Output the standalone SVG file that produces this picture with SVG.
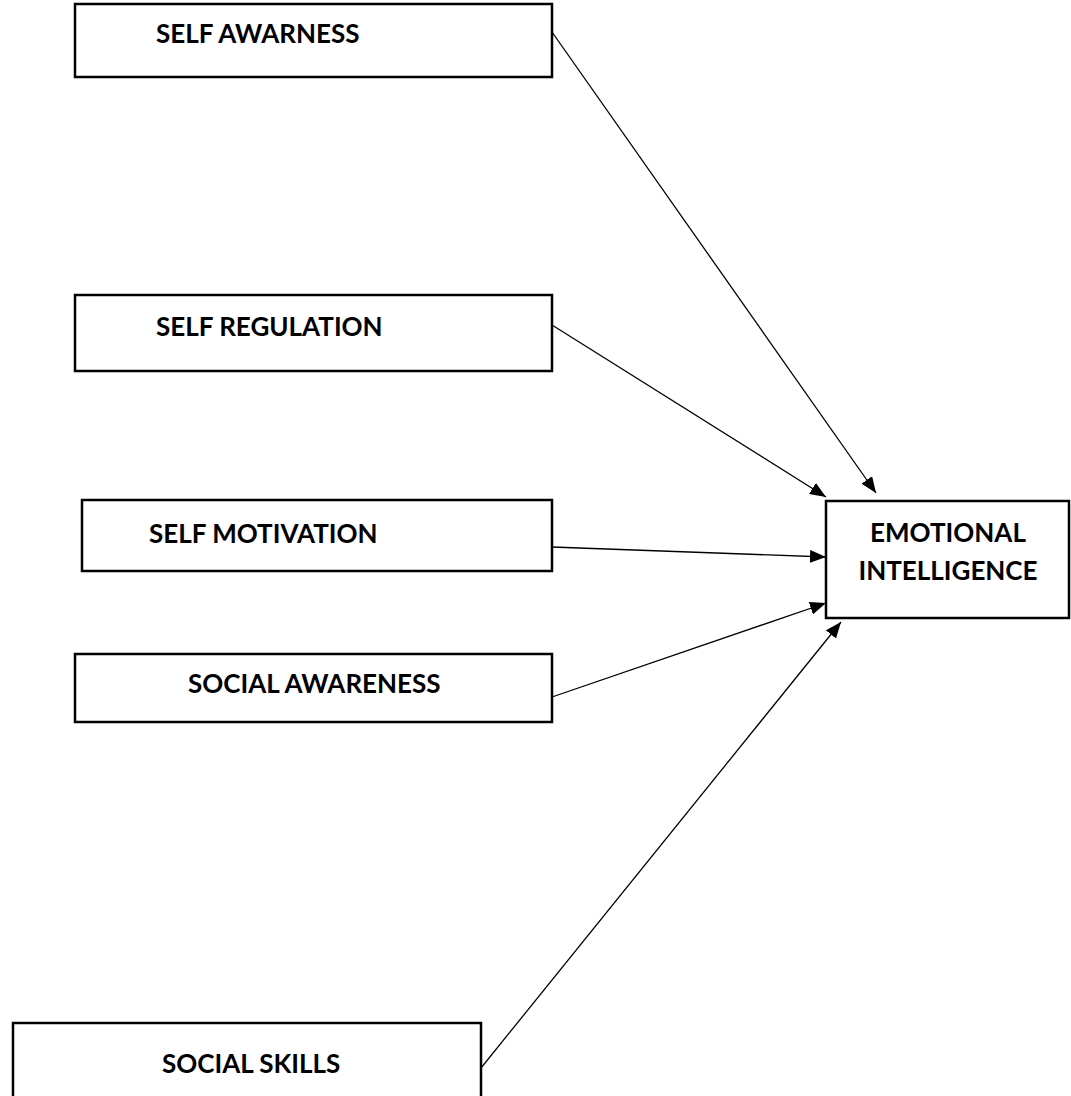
<svg xmlns="http://www.w3.org/2000/svg" width="1071" height="1096" viewBox="0 0 1071 1096">
<style>
.box{fill:#fff;stroke:#000;stroke-width:2.5}
.lbl{font-family:Lato,"Open Sans","Liberation Sans",sans-serif;font-weight:bold;font-size:26px;fill:#000}
.conn{stroke:#000;stroke-width:1.3;fill:none;marker-end:url(#ah)}
</style>
<defs>
<marker id="ah" markerUnits="userSpaceOnUse" markerWidth="17" markerHeight="13" refX="16" refY="6.5" orient="auto">
<path d="M0,0 L16,6.5 L0,13 Z" fill="#000"/>
</marker>
</defs>
<rect width="1071" height="1096" fill="#fff"/>
<g id="n1"><rect class="box" x="75" y="4" width="477" height="73"/><text class="lbl" x="156" y="43">SELF AWARNESS</text></g>
<g id="n2"><rect class="box" x="75" y="295" width="477" height="76"/><text class="lbl" x="156" y="336">SELF REGULATION</text></g>
<g id="n3"><rect class="box" x="82" y="500" width="470" height="71"/><text class="lbl" x="149" y="543">SELF MOTIVATION</text></g>
<g id="n4"><rect class="box" x="75" y="654" width="477" height="68"/><text class="lbl" x="188" y="693">SOCIAL AWARENESS</text></g>
<g id="n5"><rect class="box" x="826" y="501" width="243" height="117"/><text class="lbl" x="948" y="542" text-anchor="middle">EMOTIONAL</text><text class="lbl" x="948" y="580" text-anchor="middle">INTELLIGENCE</text></g>
<g id="n6"><rect class="box" x="13" y="1023" width="468" height="90"/><text class="lbl" x="162" y="1073">SOCIAL SKILLS</text></g>
<g id="connectors">
<line class="conn" x1="552" y1="32" x2="876" y2="493"/>
<line class="conn" x1="552" y1="325" x2="826" y2="497"/>
<line class="conn" x1="552" y1="547" x2="826" y2="557"/>
<line class="conn" x1="552" y1="697" x2="826" y2="603"/>
<line class="conn" x1="481" y1="1068" x2="841" y2="622"/>
</g>
</svg>
